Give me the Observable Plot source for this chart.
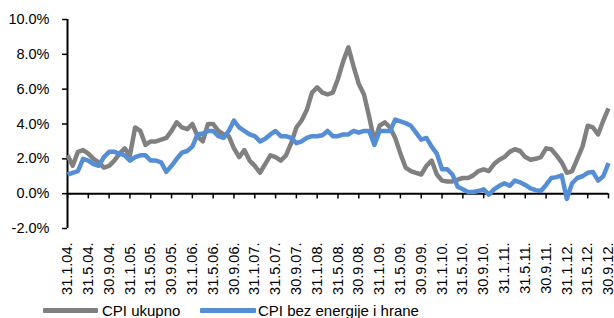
<!DOCTYPE html>
<html><head><meta charset="utf-8">
<script src="https://cdn.jsdelivr.net/npm/d3@7"></script>
<script src="https://cdn.jsdelivr.net/npm/@observablehq/plot@0.6"></script>
<style>
body{margin:0;background:#fff;font-family:"Liberation Sans",Arial,sans-serif;}
#wrap{position:relative;width:614px;height:318px;overflow:hidden;background:#fff}
.sw{position:absolute;height:5px;border-radius:1px}
.lt{position:absolute;font-size:15px;line-height:17px;color:#000;white-space:nowrap}
</style></head><body>
<div id="wrap"><div id="chart"></div>
<div class="sw" style="left:43px;top:307.5px;width:55px;background:#808080"></div>
<div class="lt" id="l1" style="left:102px;top:301.5px"></div>
<div class="sw" style="left:200px;top:307.5px;width:56px;background:#558ED5"></div>
<div class="lt" id="l2" style="left:258px;top:301.5px"></div>
</div>
<script>
const seriesNames = ["CPI ukupno", "CPI bez energije i hrane"];
const seriesColors = ["#808080", "#558ED5"];

// monthly, Jan 2004 .. Sep 2012 (%)
const cpiUkupno = [
  2.2, 1.6, 2.4, 2.5, 2.3, 2.0, 1.8, 1.5, 1.6, 1.9,
  2.3, 2.6, 2.2, 3.8, 3.6, 2.8, 3.0, 3.0, 3.1, 3.2,
  3.6, 4.1, 3.8, 3.7, 4.0, 3.3, 3.0, 4.0, 4.0, 3.6,
  3.4, 3.3, 2.6, 2.1, 2.5, 1.9, 1.6, 1.2, 1.7, 2.2,
  2.1, 1.9, 2.2, 2.9, 3.8, 4.2, 4.8, 5.8, 6.1, 5.8,
  5.7, 5.8, 6.6, 7.6, 8.4, 7.3, 6.3, 5.7, 4.4, 3.0,
  3.9, 4.1, 3.8, 3.2, 2.3, 1.5, 1.3, 1.2, 1.1, 1.6,
  1.9, 1.1, 0.75, 0.7, 0.7, 0.8, 0.9, 0.9, 1.05, 1.3,
  1.4, 1.3, 1.7, 1.95, 2.1, 2.4, 2.55, 2.45, 2.1, 1.95,
  2.0, 2.1, 2.6, 2.55, 2.2, 1.8, 1.2, 1.3, 2.0, 2.7,
  3.9, 3.8, 3.4, 4.2, 4.9
];
const cpiBez = [
  1.1, 1.2, 1.3, 2.0, 1.9, 1.7, 1.6, 2.1, 2.4, 2.4,
  2.3, 2.2, 1.9, 2.1, 2.2, 2.2, 1.9, 1.9, 1.8, 1.25,
  1.6, 2.0, 2.35, 2.45, 2.7, 3.4, 3.45, 3.6, 3.6, 3.3,
  3.2, 3.6, 4.2, 3.8, 3.6, 3.4, 3.3, 3.0, 3.15, 3.4,
  3.6, 3.3, 3.3, 3.2, 2.9, 3.0, 3.2, 3.3, 3.3, 3.35,
  3.6, 3.3, 3.3, 3.4, 3.4, 3.6, 3.5, 3.6, 3.6, 2.8,
  3.6, 3.6, 3.6, 4.25, 4.15, 4.05, 3.9, 3.5, 3.1, 3.2,
  2.7, 2.3, 1.4, 1.4, 1.1, 0.4, 0.25, 0.1, 0.1, 0.15,
  0.25, -0.05, 0.25, 0.45, 0.6, 0.45, 0.75, 0.65, 0.5, 0.3,
  0.2, 0.15, 0.5, 0.9, 0.95, 1.05, -0.3, 0.6, 0.9, 1.0,
  1.2, 1.25, 0.75, 1.0, 1.75
];
const xTickLabels = [
  "31.1.04.", "31.5.04.", "30.9.04.", "31.1.05.", "31.5.05.", "30.9.05.",
  "31.1.06.", "31.5.06.", "30.9.06.", "31.1.07.", "31.5.07.", "30.9.07.",
  "31.1.08.", "31.5.08.", "30.9.08.", "31.1.09.", "31.5.09.", "30.9.09.",
  "31.1.10.", "31.5.10.", "30.9.10.", "31.1.11.", "31.5.11.", "30.9.11.",
  "31.1.12.", "31.5.12.", "30.9.12."
];
const yTicks = [-2, 0, 2, 4, 6, 8, 10];

const data = [];
cpiUkupno.forEach((v, i) => data.push({i, v, s: seriesNames[0]}));
cpiBez.forEach((v, i) => data.push({i, v, s: seriesNames[1]}));
const xTicks = xTickLabels.map((_, k) => k * 4);

const chart = Plot.plot({
  width: 614, height: 300,
  marginTop: 19, marginBottom: 72, marginLeft: 67, marginRight: 6,
  style: {fontFamily: '"Liberation Sans", Arial, sans-serif', fontSize: "14px", color: "#000", background: "#fff", overflow: "visible"},
  x: {domain: [0, cpiUkupno.length - 1]},
  y: {domain: [-2, 10]},
  color: {domain: seriesNames, range: seriesColors},
  marks: [
    Plot.axisY({ticks: yTicks, tickSize: 5, tickPadding: 13, strokeWidth: 1.5, tickFormat: d => d.toFixed(1) + "%", label: null, fontSize: 14.5}),
    Plot.axisX({ticks: xTicks, tickSize: 0, tickPadding: 14, tickRotate: -90, tickFormat: i => xTickLabels[i / 4], label: null, fontSize: 14.5}),
    Plot.ruleX([0], {y1: -2, y2: 10, stroke: "#000", strokeWidth: 2}),
    Plot.ruleY([0], {stroke: "#000", strokeWidth: 2}),
    Plot.ruleX(xTicks, {x: d => d, y1: 0, y2: -0.3, stroke: "#000", strokeWidth: 1.5}),
    Plot.line(data, {x: "i", y: "v", z: "s", stroke: "s", strokeWidth: 4.5, strokeLinejoin: "round", strokeLinecap: "butt"})
  ]
});
document.getElementById("chart").appendChild(chart);
document.getElementById("l1").textContent = seriesNames[0];
document.getElementById("l2").textContent = seriesNames[1];
</script>
</body></html>
